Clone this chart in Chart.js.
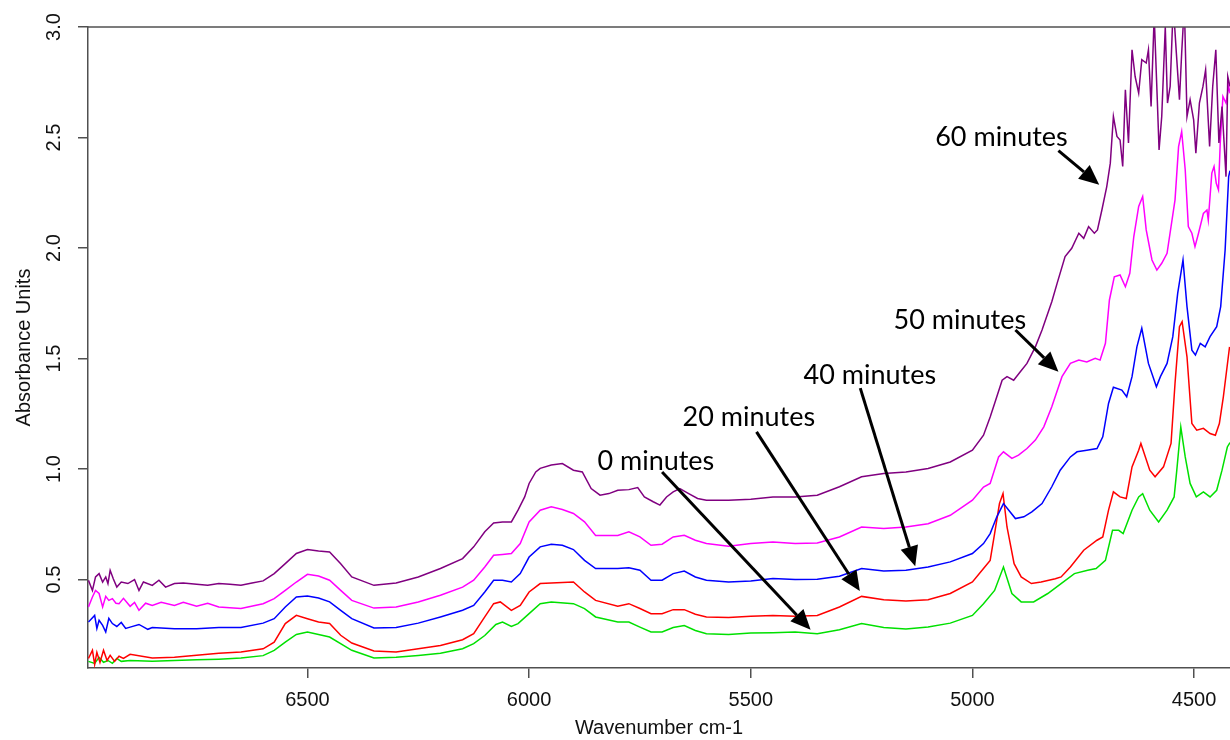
<!DOCTYPE html>
<html>
<head>
<meta charset="utf-8">
<script src="https://cdn.jsdelivr.net/npm/chart.js@4.4.0/dist/chart.umd.min.js"></script>
<style>
  html, body { margin: 0; padding: 0; background: #fff; }
  #chart { display: block; }
</style>
</head>
<body>
<canvas id="chart" width="1230" height="740"></canvas>
<script>
// spectra: wavenumber (cm-1) and absorbance for each run
const wn0 = [6994,6980,6970,6960,6950,6940,6930,6920,6900,6850,6800,6750,6700,6650,6600,6575,6550,6525,6500,6475,6450,6400,6350,6300,6250,6200,6150,6125,6100,6075,6060,6040,6025,6000,5975,5950,5900,5875,5850,5800,5775,5750,5725,5700,5675,5650,5625,5600,5550,5500,5450,5400,5350,5300,5250,5200,5150,5100,5050,5000,4975,4950,4930,4911,4890,4862,4830,4800,4770,4740,4721,4700,4684,4670,4660,4640,4625,4616,4600,4580,4561,4545,4539,4530,4520,4509,4495,4479,4464,4449,4437,4425,4419];
const abs0 = [0.130,0.121,0.148,0.126,0.134,0.121,0.143,0.130,0.134,0.131,0.134,0.137,0.140,0.145,0.156,0.180,0.217,0.252,0.263,0.252,0.240,0.180,0.145,0.149,0.157,0.167,0.187,0.210,0.247,0.297,0.308,0.288,0.301,0.346,0.391,0.399,0.391,0.369,0.331,0.308,0.308,0.285,0.263,0.263,0.283,0.292,0.270,0.255,0.252,0.258,0.260,0.263,0.255,0.273,0.301,0.283,0.276,0.285,0.303,0.338,0.391,0.451,0.557,0.437,0.399,0.399,0.437,0.482,0.527,0.542,0.550,0.587,0.723,0.723,0.708,0.814,0.874,0.889,0.814,0.761,0.814,0.874,0.995,1.19,1.055,0.935,0.874,0.897,0.874,0.904,0.995,1.10,1.12];

const wn20 = [6994,6985,6980,6975,6968,6960,6952,6945,6935,6925,6915,6900,6850,6800,6750,6700,6650,6600,6575,6550,6525,6500,6475,6450,6425,6400,6350,6300,6250,6200,6150,6125,6100,6080,6065,6040,6020,6000,5975,5950,5900,5875,5850,5800,5775,5750,5725,5700,5675,5650,5625,5600,5550,5500,5450,5400,5350,5300,5250,5200,5150,5100,5050,5000,4975,4960,4950,4939,4931,4922,4906,4890,4867,4845,4813,4800,4779,4749,4719,4706,4693,4682,4667,4653,4640,4625,4620,4600,4588,4569,4552,4543,4533,4527,4516,4505,4494,4479,4464,4452,4443,4434,4420];
const abs20 = [0.143,0.180,0.116,0.171,0.125,0.180,0.134,0.157,0.130,0.153,0.143,0.162,0.145,0.149,0.158,0.167,0.172,0.187,0.217,0.301,0.338,0.323,0.308,0.301,0.248,0.213,0.177,0.172,0.187,0.202,0.228,0.255,0.331,0.391,0.399,0.361,0.383,0.444,0.482,0.484,0.489,0.444,0.406,0.379,0.391,0.369,0.346,0.346,0.364,0.364,0.343,0.331,0.328,0.334,0.338,0.334,0.338,0.376,0.424,0.409,0.403,0.409,0.437,0.489,0.550,0.587,0.708,0.844,0.889,0.738,0.572,0.512,0.482,0.489,0.504,0.512,0.557,0.633,0.678,0.693,0.814,0.897,0.874,0.867,1.010,1.085,1.116,0.995,0.965,1.010,1.116,1.388,1.644,1.667,1.508,1.206,1.176,1.184,1.161,1.153,1.206,1.327,1.553];

const wn40 = [6994,6980,6975,6970,6962,6955,6948,6940,6930,6920,6910,6900,6880,6860,6850,6800,6750,6700,6650,6600,6575,6550,6525,6500,6475,6450,6425,6400,6350,6300,6250,6200,6150,6125,6100,6080,6060,6040,6020,6000,5975,5950,5925,5900,5875,5850,5800,5775,5750,5725,5700,5675,5650,5625,5600,5550,5500,5450,5400,5350,5300,5250,5200,5150,5100,5050,5000,4975,4960,4945,4930,4918,4903,4884,4866,4843,4821,4802,4779,4764,4742,4719,4706,4693,4682,4663,4652,4640,4629,4618,4603,4585,4576,4561,4548,4537,4525,4516,4505,4497,4486,4475,4464,4449,4440,4430,4422,4419];
const abs40 = [0.308,0.338,0.279,0.316,0.293,0.263,0.325,0.301,0.288,0.306,0.279,0.285,0.297,0.275,0.283,0.278,0.278,0.283,0.283,0.303,0.323,0.376,0.421,0.426,0.417,0.399,0.361,0.323,0.281,0.283,0.303,0.331,0.361,0.383,0.444,0.497,0.497,0.489,0.527,0.602,0.648,0.660,0.655,0.636,0.587,0.550,0.550,0.554,0.542,0.497,0.497,0.527,0.539,0.512,0.497,0.489,0.494,0.505,0.500,0.501,0.515,0.550,0.539,0.542,0.557,0.580,0.618,0.663,0.708,0.784,0.844,0.814,0.776,0.784,0.806,0.844,0.920,0.995,1.055,1.078,1.085,1.093,1.146,1.297,1.370,1.357,1.327,1.418,1.553,1.637,1.478,1.372,1.418,1.478,1.599,1.795,1.946,1.735,1.538,1.516,1.569,1.553,1.599,1.644,1.735,1.991,2.323,2.35];

const wn50 = [6994,6985,6978,6970,6962,6955,6948,6940,6932,6925,6915,6900,6890,6880,6865,6850,6830,6800,6780,6750,6725,6700,6650,6600,6575,6550,6525,6500,6475,6450,6425,6400,6350,6300,6250,6200,6150,6125,6100,6080,6060,6040,6020,6000,5975,5950,5925,5900,5875,5850,5800,5775,5750,5725,5700,5675,5650,5625,5600,5550,5500,5450,5400,5350,5300,5250,5200,5150,5100,5050,5000,4975,4960,4941,4930,4911,4896,4877,4858,4839,4821,4798,4779,4760,4742,4723,4712,4700,4691,4680,4667,4655,4645,4636,4625,4616,4608,4595,4584,4573,4561,4543,4535,4528,4520,4513,4505,4498,4490,4479,4471,4468,4460,4455,4450,4445,4441,4435,4428,4422,4419];
const abs50 = [0.376,0.421,0.451,0.437,0.376,0.424,0.406,0.414,0.393,0.391,0.415,0.379,0.397,0.361,0.393,0.383,0.397,0.383,0.397,0.379,0.393,0.376,0.369,0.391,0.414,0.451,0.489,0.524,0.516,0.497,0.451,0.406,0.371,0.376,0.399,0.429,0.466,0.497,0.557,0.610,0.614,0.618,0.663,0.761,0.814,0.829,0.817,0.799,0.761,0.700,0.700,0.716,0.693,0.655,0.660,0.693,0.700,0.678,0.663,0.651,0.663,0.670,0.663,0.666,0.693,0.738,0.731,0.738,0.753,0.791,0.859,0.919,0.935,1.055,1.078,1.048,1.063,1.093,1.131,1.191,1.282,1.418,1.478,1.493,1.485,1.501,1.493,1.569,1.765,1.870,1.878,1.825,1.886,2.052,2.188,2.233,2.082,1.946,1.90,1.931,1.976,2.218,2.459,2.527,2.354,2.097,2.067,2.006,2.067,2.157,2.172,2.127,2.339,2.369,2.293,2.263,2.475,2.686,2.656,2.731,2.70];

const wn60 = [6994,6985,6978,6970,6962,6955,6950,6945,6938,6930,6920,6905,6890,6880,6870,6850,6835,6820,6800,6780,6750,6725,6700,6675,6650,6625,6600,6575,6550,6525,6500,6475,6450,6425,6400,6350,6300,6250,6200,6150,6125,6100,6080,6060,6040,6025,6010,6000,5985,5975,5950,5925,5900,5880,5860,5840,5820,5800,5775,5755,5740,5720,5705,5690,5675,5660,5640,5620,5600,5550,5500,5450,5400,5350,5300,5250,5200,5150,5100,5050,5000,4975,4960,4950,4933,4922,4907,4892,4877,4858,4843,4821,4809,4791,4776,4760,4749,4738,4725,4718,4708,4697,4689,4682,4674,4667,4661,4655,4648,4640,4633,4625,4618,4608,4603,4597,4590,4583,4579,4573,4565,4560,4554,4547,4540,4533,4528,4522,4516,4509,4501,4496,4488,4480,4474,4465,4458,4451,4444,4437,4428,4424,4419];
const abs60 = [0.497,0.451,0.512,0.527,0.489,0.512,0.482,0.542,0.504,0.466,0.489,0.482,0.500,0.451,0.489,0.474,0.497,0.466,0.482,0.485,0.479,0.474,0.482,0.479,0.474,0.485,0.494,0.527,0.572,0.618,0.636,0.629,0.625,0.572,0.512,0.474,0.485,0.512,0.550,0.595,0.648,0.716,0.756,0.761,0.761,0.814,0.874,0.935,0.987,1.003,1.018,1.025,0.995,0.987,0.912,0.882,0.889,0.904,0.907,0.916,0.874,0.852,0.837,0.874,0.897,0.912,0.889,0.867,0.859,0.859,0.864,0.874,0.874,0.882,0.920,0.965,0.980,0.987,1.003,1.032,1.085,1.153,1.236,1.297,1.402,1.418,1.402,1.440,1.478,1.553,1.629,1.757,1.840,1.961,1.999,2.067,2.044,2.097,2.067,2.082,2.172,2.278,2.384,2.595,2.505,2.489,2.369,2.716,2.475,2.897,2.776,2.701,2.852,2.837,2.897,2.640,3.05,2.671,2.444,2.595,3.0,2.656,2.731,3.1,2.882,2.671,2.882,3.1,2.595,2.671,2.580,2.429,2.656,2.731,2.806,2.459,2.731,2.897,2.475,2.640,2.323,2.776,2.731];

// axis ticks
const xTicks = [6500, 6000, 5500, 5000, 4500];
const yTicks = [0.5, 1.0, 1.5, 2.0, 2.5, 3.0];

// callout labels (text anchor, arrow tail, arrow tip) in data units
const notes = [
    { text: '60 minutes', at: [5084, 2.499], from: [4806, 2.441], to: [4714, 2.286] },
    { text: '50 minutes', at: [5178, 1.674], from: [4903, 1.629], to: [4806, 1.440] },
    { text: '40 minutes', at: [5381, 1.425], from: [5253, 1.366], to: [5129, 0.560] },
    { text: '20 minutes', at: [5654, 1.235], from: [5487, 1.168], to: [5254, 0.448] },
    { text: '0 minutes',  at: [5846, 1.036], from: [5700, 0.987], to: [5365, 0.273] }
];

function pairs(xs, ys) {
    const n = Math.min(xs.length, ys.length);
    const out = [];
    for (let i = 0; i < n; i++) out.push({ x: xs[i], y: ys[i] });
    return out;
}

function series(label, xs, ys, color) {
    return {
        label: label,
        data: pairs(xs, ys),
        borderColor: color,
        borderWidth: 1.5,
        pointRadius: 0,
        tension: 0,
        fill: false
    };
}

const axisColor = '#505050';
const axisFont = { family: "'Liberation Sans', Arial, sans-serif", size: 20 };

// rotated y tick labels, top frame line and the arrow callouts
const extras = {
    id: 'extras',
    afterDatasetsDraw(chart) {
        const { ctx, chartArea, scales } = chart;
        const xs = scales.x, ys = scales.y;

        ctx.save();
        ctx.strokeStyle = axisColor;
        ctx.lineWidth = 1.5;
        ctx.beginPath();
        ctx.moveTo(chartArea.left, chartArea.top);
        ctx.lineTo(chartArea.right, chartArea.top);
        ctx.stroke();

        ctx.fillStyle = '#111';
        ctx.font = axisFont.size + 'px ' + axisFont.family;
        ctx.textAlign = 'center';
        ctx.textBaseline = 'middle';
        yTicks.forEach(v => {
            const py = ys.getPixelForValue(v);
            ctx.save();
            ctx.translate(54, py);
            ctx.rotate(-Math.PI / 2);
            ctx.fillText(v.toFixed(1), 0, 0);
            ctx.restore();
        });

        ctx.font = "27px Lato, 'Open Sans', sans-serif";
        ctx.textAlign = 'left';
        notes.forEach(n => {
            ctx.fillStyle = '#000';
            ctx.fillText(n.text, xs.getPixelForValue(n.at[0]), ys.getPixelForValue(n.at[1]));

            const x1 = xs.getPixelForValue(n.from[0]), y1 = ys.getPixelForValue(n.from[1]);
            const x2 = xs.getPixelForValue(n.to[0]), y2 = ys.getPixelForValue(n.to[1]);
            const ang = Math.atan2(y2 - y1, x2 - x1);
            const headLen = 20, headW = 9;
            const bx = x2 - headLen * Math.cos(ang), by = y2 - headLen * Math.sin(ang);
            ctx.strokeStyle = '#000';
            ctx.lineWidth = 3;
            ctx.beginPath();
            ctx.moveTo(x1, y1);
            ctx.lineTo(bx, by);
            ctx.stroke();
            ctx.beginPath();
            ctx.moveTo(x2, y2);
            ctx.lineTo(bx + headW * Math.sin(ang), by - headW * Math.cos(ang));
            ctx.lineTo(bx - headW * Math.sin(ang), by + headW * Math.cos(ang));
            ctx.closePath();
            ctx.fill();
        });
        ctx.restore();
    }
};

new Chart(document.getElementById('chart'), {
    type: 'line',
    data: {
        datasets: [
            series('60 minutes', wn60, abs60, '#800080'),
            series('50 minutes', wn50, abs50, '#ff00ff'),
            series('40 minutes', wn40, abs40, '#0000ff'),
            series('20 minutes', wn20, abs20, '#ff0000'),
            series('0 minutes', wn0, abs0, '#00e000')
        ]
    },
    options: {
        responsive: false,
        animation: false,
        layout: { padding: { top: 27, right: 0, bottom: 0, left: 0 } },
        plugins: {
            legend: { display: false },
            tooltip: { enabled: false }
        },
        scales: {
            x: {
                type: 'linear',
                reverse: true,
                min: 4419,
                max: 6995,
                afterBuildTicks: s => { s.ticks = xTicks.map(v => ({ value: v })); },
                afterFit: s => { s.height = 72; },
                ticks: {
                    color: '#111',
                    font: axisFont,
                    padding: 10,
                    maxRotation: 0,
                    callback: v => String(v)
                },
                grid: { drawOnChartArea: false, drawTicks: true, tickLength: 10, color: axisColor, lineWidth: 1.5 },
                border: { display: true, color: axisColor, width: 1.5 },
                title: { display: true, text: 'Wavenumber cm-1', color: '#111', font: axisFont, padding: { top: 0, bottom: 0 } }
            },
            y: {
                type: 'linear',
                min: 0.1,
                max: 3.0,
                afterBuildTicks: s => { s.ticks = yTicks.map(v => ({ value: v })); },
                afterFit: s => { s.width = 88; },
                ticks: { display: false },
                grid: { drawOnChartArea: false, drawTicks: true, tickLength: 10, color: axisColor, lineWidth: 1.5 },
                border: { display: true, color: axisColor, width: 1.5 },
                title: { display: true, text: 'Absorbance Units', color: '#111', font: axisFont, padding: { top: 12, bottom: 0 } }
            }
        }
    },
    plugins: [extras]
});
</script>
</body>
</html>
